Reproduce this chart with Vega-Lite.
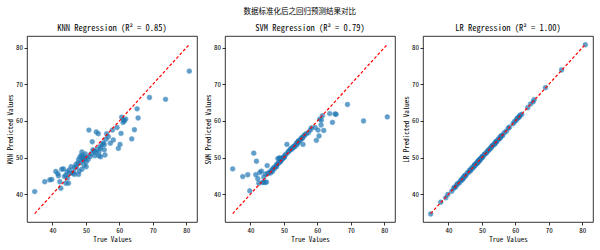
{
  "$schema": "https://vega.github.io/schema/vega-lite/v6.json",
  "padding": {"left": 6, "top": 7, "right": 5, "bottom": 2},
  "background": "white",
  "title": {
    "text": "数据标准化后之回归预测结果对比",
    "font": "Noto Sans Mono CJK SC, Noto Sans CJK SC",
    "fontSize": 7.5,
    "fontWeight": "normal",
    "color": "black",
    "anchor": "middle",
    "offset": 8
  },
  "datasets": {
    "preds": [
      {"t": 34.7, "knn": 40.7, "svm": 46.9, "lr": 34.6},
      {"t": 37.7, "knn": 43.4, "svm": 44.8, "lr": 37.8},
      {"t": 39.2, "knn": 43.9, "svm": 45.3, "lr": 39.0},
      {"t": 39.8, "knn": 44.0, "svm": 40.9, "lr": 39.9},
      {"t": 41.0, "knn": 46.2, "svm": 51.2, "lr": 40.8},
      {"t": 41.8, "knn": 45.0, "svm": 49.0, "lr": 41.9},
      {"t": 41.6, "knn": 45.6, "svm": 45.3, "lr": 41.6},
      {"t": 42.2, "knn": 43.4, "svm": 44.2, "lr": 42.0},
      {"t": 42.5, "knn": 41.6, "svm": 43.0, "lr": 42.6},
      {"t": 42.8, "knn": 46.8, "svm": 45.9, "lr": 42.9},
      {"t": 43.3, "knn": 46.9, "svm": 46.3, "lr": 43.1},
      {"t": 43.6, "knn": 44.8, "svm": 43.2, "lr": 43.7},
      {"t": 44.0, "knn": 43.0, "svm": 43.3, "lr": 44.1},
      {"t": 44.0, "knn": 45.2, "svm": 44.7, "lr": 43.8},
      {"t": 44.4, "knn": 46.1, "svm": 43.2, "lr": 44.5},
      {"t": 44.5, "knn": 44.4, "svm": 45.5, "lr": 44.3},
      {"t": 44.8, "knn": 43.0, "svm": 43.3, "lr": 45.0},
      {"t": 45.0, "knn": 46.6, "svm": 47.8, "lr": 45.1},
      {"t": 45.2, "knn": 45.7, "svm": 45.6, "lr": 45.0},
      {"t": 45.6, "knn": 47.5, "svm": 46.0, "lr": 45.8},
      {"t": 46.0, "knn": 45.7, "svm": 45.8, "lr": 45.9},
      {"t": 46.3, "knn": 46.0, "svm": 46.5, "lr": 46.5},
      {"t": 46.6, "knn": 47.2, "svm": 46.8, "lr": 46.4},
      {"t": 46.6, "knn": 45.4, "svm": 46.2, "lr": 46.7},
      {"t": 47.0, "knn": 48.1, "svm": 47.3, "lr": 47.2},
      {"t": 47.2, "knn": 47.4, "svm": 47.0, "lr": 47.0},
      {"t": 47.6, "knn": 48.5, "svm": 47.6, "lr": 47.7},
      {"t": 47.8, "knn": 49.4, "svm": 48.0, "lr": 47.9},
      {"t": 47.8, "knn": 45.4, "svm": 47.5, "lr": 47.6},
      {"t": 48.0, "knn": 46.3, "svm": 48.2, "lr": 48.2},
      {"t": 48.2, "knn": 50.1, "svm": 49.7, "lr": 48.1},
      {"t": 48.4, "knn": 48.6, "svm": 48.5, "lr": 48.5},
      {"t": 48.6, "knn": 50.6, "svm": 49.8, "lr": 48.4},
      {"t": 48.8, "knn": 51.5, "svm": 49.9, "lr": 49.0},
      {"t": 48.8, "knn": 46.8, "svm": 48.7, "lr": 48.7},
      {"t": 49.0, "knn": 49.8, "svm": 49.0, "lr": 49.1},
      {"t": 49.2, "knn": 50.3, "svm": 49.3, "lr": 49.0},
      {"t": 49.2, "knn": 49.2, "svm": 49.5, "lr": 49.4},
      {"t": 49.5, "knn": 47.9, "svm": 49.6, "lr": 49.6},
      {"t": 49.6, "knn": 49.5, "svm": 49.8, "lr": 49.5},
      {"t": 49.8, "knn": 51.0, "svm": 50.0, "lr": 49.9},
      {"t": 50.1, "knn": 48.8, "svm": 50.2, "lr": 50.3},
      {"t": 50.1, "knn": 47.5, "svm": 50.0, "lr": 50.0},
      {"t": 50.3, "knn": 50.1, "svm": 50.6, "lr": 50.2},
      {"t": 50.7, "knn": 49.5, "svm": 51.0, "lr": 50.8},
      {"t": 50.9, "knn": 57.5, "svm": 53.6, "lr": 51.0},
      {"t": 51.3, "knn": 50.3, "svm": 51.5, "lr": 51.2},
      {"t": 51.5, "knn": 51.0, "svm": 51.8, "lr": 51.6},
      {"t": 51.9, "knn": 54.3, "svm": 52.1, "lr": 52.0},
      {"t": 52.1, "knn": 52.1, "svm": 52.5, "lr": 52.0},
      {"t": 52.4, "knn": 51.7, "svm": 52.3, "lr": 52.5},
      {"t": 52.7, "knn": 50.5, "svm": 52.8, "lr": 52.6},
      {"t": 52.9, "knn": 51.4, "svm": 52.9, "lr": 53.0},
      {"t": 53.1, "knn": 57.0, "svm": 53.2, "lr": 53.2},
      {"t": 53.3, "knn": 52.2, "svm": 53.0, "lr": 53.4},
      {"t": 53.7, "knn": 56.5, "svm": 53.8, "lr": 53.6},
      {"t": 53.9, "knn": 50.5, "svm": 53.5, "lr": 54.0},
      {"t": 53.9, "knn": 51.6, "svm": 54.0, "lr": 53.8},
      {"t": 54.2, "knn": 53.0, "svm": 54.3, "lr": 54.3},
      {"t": 54.4, "knn": 52.5, "svm": 54.6, "lr": 54.5},
      {"t": 54.4, "knn": 50.2, "svm": 54.2, "lr": 54.3},
      {"t": 54.9, "knn": 53.6, "svm": 54.8, "lr": 55.0},
      {"t": 55.2, "knn": 54.0, "svm": 55.3, "lr": 55.1},
      {"t": 55.5, "knn": 53.5, "svm": 55.5, "lr": 55.6},
      {"t": 55.5, "knn": 52.1, "svm": 55.2, "lr": 55.4},
      {"t": 55.7, "knn": 50.7, "svm": 53.6, "lr": 55.8},
      {"t": 56.0, "knn": 55.0, "svm": 55.9, "lr": 56.1},
      {"t": 56.2, "knn": 56.5, "svm": 56.2, "lr": 56.0},
      {"t": 56.7, "knn": 55.7, "svm": 56.5, "lr": 56.8},
      {"t": 57.3, "knn": 53.9, "svm": 56.8, "lr": 57.2},
      {"t": 57.9, "knn": 57.5, "svm": 57.5, "lr": 58.0},
      {"t": 58.2, "knn": 54.8, "svm": 58.1, "lr": 58.3},
      {"t": 59.3, "knn": 58.2, "svm": 58.2, "lr": 59.2},
      {"t": 59.7, "knn": 52.5, "svm": 54.7, "lr": 59.8},
      {"t": 60.2, "knn": 53.6, "svm": 57.5, "lr": 60.1},
      {"t": 60.5, "knn": 56.6, "svm": 55.9, "lr": 60.6},
      {"t": 60.7, "knn": 61.0, "svm": 60.5, "lr": 60.8},
      {"t": 61.1, "knn": 59.6, "svm": 58.9, "lr": 61.0},
      {"t": 61.2, "knn": 60.3, "svm": 60.2, "lr": 61.3},
      {"t": 61.9, "knn": 60.5, "svm": 57.4, "lr": 61.8},
      {"t": 61.5, "knn": 60.0, "svm": 61.4, "lr": 61.6},
      {"t": 63.7, "knn": 55.1, "svm": 62.0, "lr": 63.6},
      {"t": 64.5, "knn": 57.6, "svm": 59.6, "lr": 64.6},
      {"t": 65.3, "knn": 63.3, "svm": 61.9, "lr": 65.2},
      {"t": 65.6, "knn": 60.8, "svm": 61.8, "lr": 65.8},
      {"t": 69.0, "knn": 66.4, "svm": 64.5, "lr": 69.1},
      {"t": 73.8, "knn": 65.9, "svm": 60.0, "lr": 73.9},
      {"t": 80.9, "knn": 73.6, "svm": 61.1, "lr": 80.8}
    ],
    "diag": [{"v": 34.7}, {"v": 80.9}]
  },
  "spacing": 6,
  "hconcat": [
    {
      "width": 170,
      "height": 186,
      "title": "KNN Regression (R² = 0.85)",
      "layer": [
        {
          "data": {"name": "preds"},
          "mark": {"type": "circle", "size": 24, "color": "#1f77b4", "opacity": 0.7, "stroke": "#1f77b4", "strokeWidth": 0.5},
          "encoding": {
            "x": {"field": "t", "type": "quantitative", "scale": {"domain": [32.4, 83.2], "nice": false, "zero": false}, "axis": {"title": "True Values", "values": [40, 50, 60, 70, 80]}},
            "y": {"field": "knn", "type": "quantitative", "scale": {"domain": [32.4, 83.2], "nice": false, "zero": false}, "axis": {"title": "KNN Predicted Values", "values": [40, 50, 60, 70, 80]}}
          }
        },
        {
          "data": {"name": "diag"},
          "mark": {"type": "line", "color": "red", "strokeWidth": 1.2, "strokeDash": [3, 2]},
          "encoding": {
            "x": {"field": "v", "type": "quantitative"},
            "y": {"field": "v", "type": "quantitative"}
          }
        }
      ]
    },
    {
      "width": 170,
      "height": 186,
      "title": "SVM Regression (R² = 0.79)",
      "layer": [
        {
          "data": {"name": "preds"},
          "mark": {"type": "circle", "size": 24, "color": "#1f77b4", "opacity": 0.7, "stroke": "#1f77b4", "strokeWidth": 0.5},
          "encoding": {
            "x": {"field": "t", "type": "quantitative", "scale": {"domain": [32.4, 83.2], "nice": false, "zero": false}, "axis": {"title": "True Values", "values": [40, 50, 60, 70, 80]}},
            "y": {"field": "svm", "type": "quantitative", "scale": {"domain": [32.4, 83.2], "nice": false, "zero": false}, "axis": {"title": "SVM Predicted Values", "values": [40, 50, 60, 70, 80]}}
          }
        },
        {
          "data": {"name": "diag"},
          "mark": {"type": "line", "color": "red", "strokeWidth": 1.2, "strokeDash": [3, 2]},
          "encoding": {
            "x": {"field": "v", "type": "quantitative"},
            "y": {"field": "v", "type": "quantitative"}
          }
        }
      ]
    },
    {
      "width": 170,
      "height": 186,
      "title": "LR Regression (R² = 1.00)",
      "layer": [
        {
          "data": {"name": "preds"},
          "mark": {"type": "circle", "size": 24, "color": "#1f77b4", "opacity": 0.7, "stroke": "#1f77b4", "strokeWidth": 0.5},
          "encoding": {
            "x": {"field": "t", "type": "quantitative", "scale": {"domain": [32.4, 83.2], "nice": false, "zero": false}, "axis": {"title": "True Values", "values": [40, 50, 60, 70, 80]}},
            "y": {"field": "lr", "type": "quantitative", "scale": {"domain": [32.4, 83.2], "nice": false, "zero": false}, "axis": {"title": "LR Predicted Values", "values": [40, 50, 60, 70, 80]}}
          }
        },
        {
          "data": {"name": "diag"},
          "mark": {"type": "line", "color": "red", "strokeWidth": 1.2, "strokeDash": [3, 2]},
          "encoding": {
            "x": {"field": "v", "type": "quantitative"},
            "y": {"field": "v", "type": "quantitative"}
          }
        }
      ]
    }
  ],
  "config": {
    "font": "Noto Sans Mono CJK SC, Noto Sans CJK SC",
    "view": {"stroke": "black", "strokeWidth": 0.8},
    "title": {"font": "Noto Sans Mono CJK SC, Noto Sans CJK SC", "fontSize": 8.5, "fontWeight": "normal", "color": "black", "offset": 4},
    "axis": {
      "grid": false,
      "domain": false,
      "ticks": true,
      "tickSize": 3,
      "tickColor": "black",
      "tickWidth": 0.8,
      "labelFont": "Noto Sans Mono CJK SC, Noto Sans CJK SC",
      "labelFontSize": 7,
      "labelColor": "black",
      "labelPadding": 1.5,
      "titleFont": "Noto Sans Mono CJK SC, Noto Sans CJK SC",
      "titleFontSize": 7,
      "titleFontWeight": "normal",
      "titleColor": "black",
      "titlePadding": 2
    }
  }
}
